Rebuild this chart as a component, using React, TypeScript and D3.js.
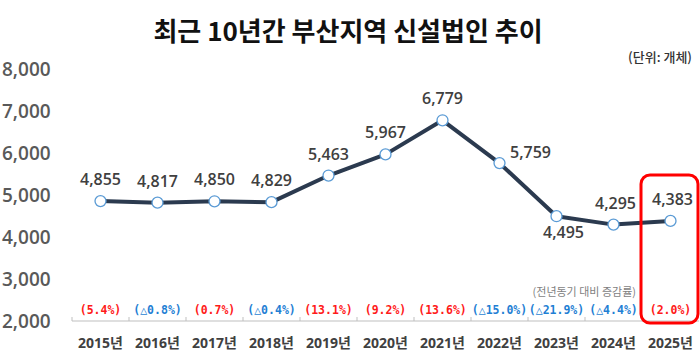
import React from 'react';
import * as d3 from 'd3';

const years = ['2015년', '2016년', '2017년', '2018년', '2019년', '2020년', '2021년', '2022년', '2023년', '2024년', '2025년'];
const counts = [4855, 4817, 4850, 4829, 5463, 5967, 6779, 5759, 4495, 4295, 4383];
const changes = ['(5.4%)', '(△0.8%)', '(0.7%)', '(△0.4%)', '(13.1%)', '(9.2%)', '(13.6%)', '(△15.0%)', '(△21.9%)', '(△4.4%)', '(2.0%)'];
const yTicks = [2000, 3000, 4000, 5000, 6000, 7000, 8000];

const W = 700;
const H = 363;
const KR = '"Open Sans", "Noto Sans CJK KR", sans-serif';

export default function App() {
  const x = d3.scaleBand<string>().domain(years).range([72, 699]);
  const y = d3.scaleLinear().domain([2000, 8000]).range([321, 69]);
  const cx = (d: string) => (x(d) ?? 0) + x.bandwidth() / 2;

  const line = d3.line<number>()
    .x((_, i) => cx(years[i]))
    .y(d => y(d));

  // label offsets relative to each point (dx, dy of baseline)
  const labelOff = (i: number): [number, number] => {
    if (i === 7) return [31, -5];
    if (i === 8) return [7, 22];
    if (i === 9) return [2, -16];
    if (i === 10) return [2, -16];
    return [0, -16];
  };

  const last = years[years.length - 1];

  return (
    <svg width={W} height={H} style={{ position: 'absolute', left: 0, top: 0, background: '#fff' }}>
      <text x={348} y={41} textAnchor="middle" fontFamily='"Noto Sans CJK KR", sans-serif' fontWeight={700} fontSize={26} fill="#111">
        최근 10년간 부산지역 신설법인 추이
      </text>
      <text x={692} y={62} textAnchor="end" fontFamily='"Noto Sans CJK KR", sans-serif' fontWeight={500} fontSize={13} fill="#333">
        (단위: 개체)
      </text>

      {yTicks.map(t => (
        <text key={t} x={2} y={y(t)} dy="0.36em" fontFamily={KR} fontWeight={600} fontSize={19} fill="#595959">
          {d3.format(',')(t)}
        </text>
      ))}

      {/* x axis */}
      <line x1={72} x2={699} y1={321} y2={321} stroke="#bfbfbf" strokeWidth={1} />
      {years.map(d => (
        <line key={d} x1={x(d)} x2={x(d)} y1={317} y2={321} stroke="#bfbfbf" strokeWidth={1} />
      ))}
      {years.map(d => (
        <text key={d} x={cx(d)} y={348} textAnchor="middle" fontFamily={KR} fontWeight={700} fontSize={14} fill="#404040">
          {d}
        </text>
      ))}

      <text x={636} y={296} textAnchor="end" fontFamily='"Noto Sans CJK KR", sans-serif' fontSize={11} fill="#7f7f7f">
        (전년동기 대비 증감률)
      </text>
      {changes.map((c, i) => (
        <text key={i} x={cx(years[i])} y={314} textAnchor="middle" fontFamily='"DejaVu Sans Mono", monospace' fontWeight={600} fontSize={11.5} fill={c.includes('△') ? '#1f7fd4' : '#ff1a1a'}>
          {c}
        </text>
      ))}

      <path d={line(counts) ?? ''} fill="none" stroke="#2b3a4f" strokeWidth={4} strokeLinejoin="round" />
      {counts.map((v, i) => (
        <circle key={i} cx={cx(years[i])} cy={y(v)} r={5.5} fill="#fff" stroke="#5b9bd5" strokeWidth={1.3} />
      ))}
      {counts.map((v, i) => {
        const [dx, dy] = labelOff(i);
        return (
          <text key={i} x={cx(years[i]) + dx} y={y(v) + dy} textAnchor="middle" fontFamily={KR} fontWeight={600} fontSize={16} fill="#404040">
            {d3.format(',')(v)}
          </text>
        );
      })}

      <rect x={(x(last) ?? 0) - 1} y={175} width={x.bandwidth()} height={148} rx={9} fill="none" stroke="#ff0000" strokeWidth={3} />
    </svg>
  );
}
